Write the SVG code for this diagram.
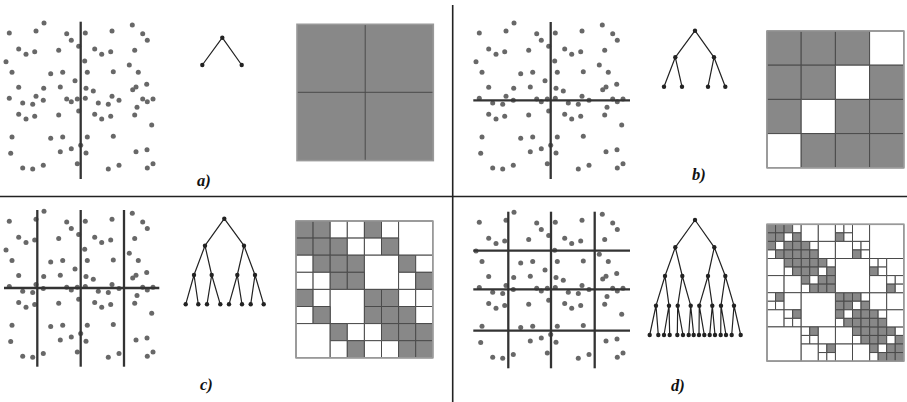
<svg xmlns="http://www.w3.org/2000/svg" xmlns:xlink="http://www.w3.org/1999/xlink" width="907" height="402" viewBox="0 0 907 402">
<style>
.pt{fill:#686868}
.cut{stroke:#333;stroke-width:2.3;fill:none}
.edge{stroke:#222;stroke-width:1.2;fill:none}
.nd{fill:#222}
.g{fill:#888;stroke:#4a4a4a;stroke-width:1;vector-effect:non-scaling-stroke}
.w{fill:#fff;stroke:#4a4a4a;stroke-width:1;vector-effect:non-scaling-stroke}
.border{fill:none;stroke:#999;stroke-width:1.6}
.div{stroke:#222;stroke-width:1.6}
.lbl{font-family:"Liberation Serif",serif;font-weight:bold;font-style:italic;font-size:16.5px;fill:#111}
</style>
<defs>
<g id="cloud" class="pt">
<circle cx="44" cy="23" r="2.5"/><circle cx="9.3" cy="33" r="2.5"/><circle cx="36" cy="31" r="2.5"/><circle cx="66.7" cy="33.7" r="2.5"/><circle cx="71.3" cy="40.3" r="2.5"/><circle cx="85.3" cy="33" r="2.5"/><circle cx="112" cy="31" r="2.5"/><circle cx="132.3" cy="25" r="2.5"/><circle cx="142.7" cy="33.7" r="2.5"/><circle cx="147.3" cy="40.3" r="2.5"/>
<circle cx="18.7" cy="49" r="2.5"/><circle cx="26" cy="54.3" r="2.5"/><circle cx="34.7" cy="51.7" r="2.5"/><circle cx="58.7" cy="50.3" r="2.5"/><circle cx="78.7" cy="46.3" r="2.5"/><circle cx="94.7" cy="49" r="2.5"/><circle cx="101.7" cy="54.3" r="2.5"/><circle cx="110.7" cy="51.7" r="2.5"/><circle cx="134.7" cy="50.3" r="2.5"/>
<circle cx="6" cy="61.7" r="2.5"/><circle cx="84.7" cy="61" r="2.5"/><circle cx="129.3" cy="65" r="2.5"/>
<circle cx="12" cy="72.3" r="2.5"/><circle cx="50.7" cy="73.7" r="2.5"/><circle cx="62.7" cy="72.3" r="2.5"/><circle cx="87.3" cy="72.3" r="2.5"/><circle cx="113.3" cy="71.7" r="2.5"/><circle cx="138.3" cy="72.3" r="2.5"/>
<circle cx="75" cy="80.7" r="2.5"/>
<circle cx="18.7" cy="87.3" r="2.5"/><circle cx="43.7" cy="88.3" r="2.5"/><circle cx="60.3" cy="87" r="2.5"/><circle cx="86" cy="88.3" r="2.5"/><circle cx="93.3" cy="91" r="2.5"/><circle cx="136" cy="87" r="2.5"/><circle cx="132.7" cy="89.7" r="2.5"/><circle cx="146.7" cy="84.3" r="2.5"/>
<circle cx="9.3" cy="98.3" r="2.5"/><circle cx="36" cy="96.3" r="2.5"/><circle cx="43.3" cy="100.3" r="2.5"/><circle cx="22.7" cy="103" r="2.5"/><circle cx="32.7" cy="104.3" r="2.5"/><circle cx="66.7" cy="99" r="2.5"/><circle cx="71.3" cy="101.7" r="2.5"/><circle cx="77.3" cy="99" r="2.5"/><circle cx="85.3" cy="98.3" r="2.5"/><circle cx="98.3" cy="103" r="2.5"/><circle cx="108.3" cy="104.3" r="2.5"/><circle cx="112" cy="96.3" r="2.5"/><circle cx="119" cy="100.3" r="2.5"/><circle cx="142.7" cy="99" r="2.5"/><circle cx="147.3" cy="101.7" r="2.5"/><circle cx="153" cy="99" r="2.5"/><circle cx="137" cy="107.3" r="2.5"/>
<circle cx="18.7" cy="114.3" r="2.5"/><circle cx="26" cy="119" r="2.5"/><circle cx="34.7" cy="116.3" r="2.5"/><circle cx="58.7" cy="115" r="2.5"/><circle cx="78.7" cy="111" r="2.5"/><circle cx="94.7" cy="114.3" r="2.5"/><circle cx="101.7" cy="119" r="2.5"/><circle cx="110.7" cy="116.3" r="2.5"/><circle cx="134.7" cy="115" r="2.5"/><circle cx="151.7" cy="125" r="2.5"/>
<circle cx="12" cy="137" r="2.5"/><circle cx="50.7" cy="138.3" r="2.5"/><circle cx="62.7" cy="137" r="2.5"/><circle cx="87.3" cy="137" r="2.5"/><circle cx="113.3" cy="136.3" r="2.5"/>
<circle cx="10.7" cy="153.3" r="2.5"/><circle cx="60.3" cy="151.7" r="2.5"/><circle cx="71.3" cy="148.7" r="2.5"/><circle cx="80.7" cy="145.3" r="2.5"/><circle cx="86" cy="153" r="2.5"/><circle cx="136" cy="151.7" r="2.5"/><circle cx="147" cy="149.7" r="2.5"/>
<circle cx="22.7" cy="168" r="2.5"/><circle cx="32.7" cy="169" r="2.5"/><circle cx="43.3" cy="165.3" r="2.5"/><circle cx="77.3" cy="163.7" r="2.5"/><circle cx="108.3" cy="169" r="2.5"/><circle cx="119" cy="165.3" r="2.5"/><circle cx="147.3" cy="168" r="2.5"/><circle cx="153" cy="163.7" r="2.5"/>
</g>
</defs>

<g id="dividers">
<line class="div" x1="452.7" y1="5" x2="452.7" y2="402"/>
<line class="div" x1="0" y1="196.5" x2="907" y2="196.5"/>
</g>

<!-- Panel a -->
<g id="panel-a">
<g id="a-points"><use xlink:href="#cloud" href="#cloud"/>
<line class="cut" x1="80.7" y1="21.7" x2="80.7" y2="179"/></g>
<g id="a-tree">
<path class="edge" d="M222.3 37.7L202.3 65M222.3 37.7L241.7 65"/>
<circle class="nd" cx="222.3" cy="37.7" r="2.2"/><circle class="nd" cx="202.3" cy="65" r="2.2"/><circle class="nd" cx="241.7" cy="65" r="2.2"/>
</g>
<g id="a-matrix">
<rect x="297" y="24.3" width="136.3" height="136.3" fill="#888"/>
<path d="M365.2 24.3V160.6M297 92.3H433.3" stroke="#4a4a4a" stroke-width="1"/>
<rect class="border" x="297" y="24.3" width="136.3" height="136.3"/>
</g>
<text class="lbl" x="197" y="186">a)</text>
</g>

<!-- Panel b -->
<g id="panel-b">
<g id="b-points"><use xlink:href="#cloud" href="#cloud" x="470" y="0"/>
<line class="cut" x1="550.7" y1="22" x2="550.7" y2="179"/>
<line class="cut" x1="473.3" y1="100.3" x2="630" y2="100.3"/></g>
<g id="b-tree">
<path class="edge" d="M695 30.7L675.3 57.3M695 30.7L714 57.3M675.3 57.3L664 86.7M675.3 57.3L682 86.7M714 57.3L708 86.7M714 57.3L725.3 86.7"/>
<circle class="nd" cx="695" cy="30.7" r="2.2"/><circle class="nd" cx="675.3" cy="57.3" r="2.2"/><circle class="nd" cx="714" cy="57.3" r="2.2"/>
<circle class="nd" cx="664" cy="86.7" r="2.2"/><circle class="nd" cx="682" cy="86.7" r="2.2"/><circle class="nd" cx="708" cy="86.7" r="2.2"/><circle class="nd" cx="725.3" cy="86.7" r="2.2"/>
</g>
<g id="b-matrix">
<g transform="translate(767 31) scale(34.2)">
<rect class="g" x="0" y="0" width="1" height="1"/><rect class="g" x="1" y="0" width="1" height="1"/><rect class="g" x="2" y="0" width="1" height="1"/><rect class="w" x="3" y="0" width="1" height="1"/>
<rect class="g" x="0" y="1" width="1" height="1"/><rect class="g" x="1" y="1" width="1" height="1"/><rect class="w" x="2" y="1" width="1" height="1"/><rect class="g" x="3" y="1" width="1" height="1"/>
<rect class="g" x="0" y="2" width="1" height="1"/><rect class="w" x="1" y="2" width="1" height="1"/><rect class="g" x="2" y="2" width="1" height="1"/><rect class="g" x="3" y="2" width="1" height="1"/>
<rect class="w" x="0" y="3" width="1" height="1"/><rect class="g" x="1" y="3" width="1" height="1"/><rect class="g" x="2" y="3" width="1" height="1"/><rect class="g" x="3" y="3" width="1" height="1"/>
</g>
<rect class="border" x="767" y="31" width="136.8" height="136.8"/>
</g>
<text class="lbl" x="692" y="180">b)</text>
</g>

<!-- Panel c -->
<g id="panel-c">
<g id="c-points"><use xlink:href="#cloud" href="#cloud" x="0" y="188.3"/>
<line class="cut" x1="37.3" y1="210" x2="37.3" y2="366.7"/>
<line class="cut" x1="80.7" y1="210" x2="80.7" y2="366.7"/>
<line class="cut" x1="124" y1="210" x2="124" y2="366.7"/>
<line class="cut" x1="4" y1="288" x2="159.3" y2="288"/></g>
<g id="c-tree">
<path class="edge" d="M224.3 218.7L205 245.7M224.3 218.7L244 245.7M205 245.7L194 275M205 245.7L211.7 275M244 245.7L237.3 275M244 245.7L255 275M194 275L185.7 304.3M194 275L198.3 304.3M211.7 275L207 304.3M211.7 275L220.3 304.3M237.3 275L229 304.3M237.3 275L242 304.3M255 275L250.7 304.3M255 275L263.7 304.3"/>
<circle class="nd" cx="224.3" cy="218.7" r="2.2"/><circle class="nd" cx="205" cy="245.7" r="2.2"/><circle class="nd" cx="244" cy="245.7" r="2.2"/>
<circle class="nd" cx="194" cy="275" r="2.2"/><circle class="nd" cx="211.7" cy="275" r="2.2"/><circle class="nd" cx="237.3" cy="275" r="2.2"/><circle class="nd" cx="255" cy="275" r="2.2"/>
<circle class="nd" cx="185.7" cy="304.3" r="2.2"/><circle class="nd" cx="198.3" cy="304.3" r="2.2"/><circle class="nd" cx="207" cy="304.3" r="2.2"/><circle class="nd" cx="220.3" cy="304.3" r="2.2"/><circle class="nd" cx="229" cy="304.3" r="2.2"/><circle class="nd" cx="242" cy="304.3" r="2.2"/><circle class="nd" cx="250.7" cy="304.3" r="2.2"/><circle class="nd" cx="263.7" cy="304.3" r="2.2"/>
</g>
<g id="c-matrix">
<g transform="translate(296 221) scale(17.1)">
<rect class="g" x="0" y="0" width="1" height="1"/><rect class="g" x="1" y="0" width="1" height="1"/><rect class="w" x="2" y="0" width="1" height="1"/><rect class="w" x="3" y="0" width="1" height="1"/><rect class="g" x="4" y="0" width="1" height="1"/><rect class="w" x="5" y="0" width="1" height="1"/><rect class="w" x="6" y="0" width="2" height="2"/>
<rect class="g" x="0" y="1" width="1" height="1"/><rect class="g" x="1" y="1" width="1" height="1"/><rect class="g" x="2" y="1" width="1" height="1"/><rect class="w" x="3" y="1" width="1" height="1"/><rect class="w" x="4" y="1" width="1" height="1"/><rect class="g" x="5" y="1" width="1" height="1"/>
<rect class="w" x="0" y="2" width="1" height="1"/><rect class="g" x="1" y="2" width="1" height="1"/><rect class="g" x="2" y="2" width="1" height="1"/><rect class="g" x="3" y="2" width="1" height="1"/><rect class="w" x="4" y="2" width="2" height="2"/><rect class="g" x="6" y="2" width="1" height="1"/><rect class="w" x="7" y="2" width="1" height="1"/>
<rect class="w" x="0" y="3" width="1" height="1"/><rect class="w" x="1" y="3" width="1" height="1"/><rect class="g" x="2" y="3" width="1" height="1"/><rect class="g" x="3" y="3" width="1" height="1"/><rect class="w" x="6" y="3" width="1" height="1"/><rect class="g" x="7" y="3" width="1" height="1"/>
<rect class="g" x="0" y="4" width="1" height="1"/><rect class="w" x="1" y="4" width="1" height="1"/><rect class="w" x="2" y="4" width="2" height="2"/><rect class="g" x="4" y="4" width="1" height="1"/><rect class="g" x="5" y="4" width="1" height="1"/><rect class="w" x="6" y="4" width="1" height="1"/><rect class="w" x="7" y="4" width="1" height="1"/>
<rect class="w" x="0" y="5" width="1" height="1"/><rect class="g" x="1" y="5" width="1" height="1"/><rect class="g" x="4" y="5" width="1" height="1"/><rect class="g" x="5" y="5" width="1" height="1"/><rect class="g" x="6" y="5" width="1" height="1"/><rect class="w" x="7" y="5" width="1" height="1"/>
<rect class="w" x="0" y="6" width="2" height="2"/><rect class="g" x="2" y="6" width="1" height="1"/><rect class="w" x="3" y="6" width="1" height="1"/><rect class="w" x="4" y="6" width="1" height="1"/><rect class="g" x="5" y="6" width="1" height="1"/><rect class="g" x="6" y="6" width="1" height="1"/><rect class="g" x="7" y="6" width="1" height="1"/>
<rect class="w" x="2" y="7" width="1" height="1"/><rect class="g" x="3" y="7" width="1" height="1"/><rect class="w" x="4" y="7" width="1" height="1"/><rect class="w" x="5" y="7" width="1" height="1"/><rect class="g" x="6" y="7" width="1" height="1"/><rect class="g" x="7" y="7" width="1" height="1"/>
</g>
<rect class="border" x="296" y="221" width="136.8" height="136.8"/>
</g>
<text class="lbl" x="200" y="390">c)</text>
</g>

<!-- Panel d -->
<g id="panel-d">
<g id="d-points"><use xlink:href="#cloud" href="#cloud" x="470" y="189.3"/>
<line class="cut" x1="508.3" y1="211.7" x2="508.3" y2="368.3"/>
<line class="cut" x1="551" y1="211.7" x2="551" y2="368.3"/>
<line class="cut" x1="594.7" y1="211.7" x2="594.7" y2="368.3"/>
<line class="cut" x1="473.3" y1="250.7" x2="630" y2="250.7"/>
<line class="cut" x1="473.3" y1="289.3" x2="630" y2="289.3"/>
<line class="cut" x1="473.3" y1="330.7" x2="630" y2="330.7"/></g>
<g id="d-tree">
<path class="edge" d="M695 220L675.3 247.3M695 220L714.3 247.3M675.3 247.3L665 276M675.3 247.3L682.3 276M714.3 247.3L708 276M714.3 247.3L725.3 276M665 276L656 305.7M665 276L669 305.7M682.3 276L677.7 305.7M682.3 276L690.7 305.7M708 276L699.3 305.7M708 276L712.3 305.7M725.3 276L721 305.7M725.3 276L734 305.7M656 305.7L649.7 335M656 305.7L658.3 335M669 305.7L664 335M669 305.7L669.7 335M677.7 305.7L677.3 335M677.7 305.7L683 335M690.7 305.7L688.7 335M690.7 305.7L693.7 335M699.3 305.7L699 335M699.3 305.7L704.3 335M712.3 305.7L709.7 335M712.3 305.7L715 335M721 305.7L720.7 335M721 305.7L726 335M734 305.7L731.7 335M734 305.7L740.7 335"/>
<circle class="nd" cx="695" cy="220" r="2.2"/><circle class="nd" cx="675.3" cy="247.3" r="2.2"/><circle class="nd" cx="714.3" cy="247.3" r="2.2"/>
<circle class="nd" cx="665" cy="276" r="2.2"/><circle class="nd" cx="682.3" cy="276" r="2.2"/><circle class="nd" cx="708" cy="276" r="2.2"/><circle class="nd" cx="725.3" cy="276" r="2.2"/>
<circle class="nd" cx="656" cy="305.7" r="2.2"/><circle class="nd" cx="669" cy="305.7" r="2.2"/><circle class="nd" cx="677.7" cy="305.7" r="2.2"/><circle class="nd" cx="690.7" cy="305.7" r="2.2"/><circle class="nd" cx="699.3" cy="305.7" r="2.2"/><circle class="nd" cx="712.3" cy="305.7" r="2.2"/><circle class="nd" cx="721" cy="305.7" r="2.2"/><circle class="nd" cx="734" cy="305.7" r="2.2"/>
<circle class="nd" cx="649.7" cy="335" r="2.2"/><circle class="nd" cx="658.3" cy="335" r="2.2"/><circle class="nd" cx="664" cy="335" r="2.2"/><circle class="nd" cx="669.7" cy="335" r="2.2"/><circle class="nd" cx="677.3" cy="335" r="2.2"/><circle class="nd" cx="683" cy="335" r="2.2"/><circle class="nd" cx="688.7" cy="335" r="2.2"/><circle class="nd" cx="693.7" cy="335" r="2.2"/><circle class="nd" cx="699" cy="335" r="2.2"/><circle class="nd" cx="704.3" cy="335" r="2.2"/><circle class="nd" cx="709.7" cy="335" r="2.2"/><circle class="nd" cx="715" cy="335" r="2.2"/><circle class="nd" cx="720.7" cy="335" r="2.2"/><circle class="nd" cx="726" cy="335" r="2.2"/><circle class="nd" cx="731.7" cy="335" r="2.2"/><circle class="nd" cx="740.7" cy="335" r="2.2"/>
</g>
<g id="d-matrix">
<g transform="translate(767 224.3) scale(8.55)">
<!-- Q00 diag blocks -->
<rect class="g" x="0" y="0" width="1" height="1"/><rect class="g" x="1" y="0" width="1" height="1"/><rect class="g" x="2" y="0" width="1" height="1"/><rect class="w" x="3" y="0" width="1" height="1"/>
<rect class="g" x="0" y="1" width="1" height="1"/><rect class="g" x="1" y="1" width="1" height="1"/><rect class="w" x="2" y="1" width="1" height="1"/><rect class="g" x="3" y="1" width="1" height="1"/>
<rect class="g" x="0" y="2" width="1" height="1"/><rect class="w" x="1" y="2" width="1" height="1"/><rect class="g" x="2" y="2" width="1" height="1"/><rect class="g" x="3" y="2" width="1" height="1"/>
<rect class="w" x="0" y="3" width="1" height="1"/><rect class="g" x="1" y="3" width="1" height="1"/><rect class="g" x="2" y="3" width="1" height="1"/><rect class="g" x="3" y="3" width="1" height="1"/>
<rect class="g" x="4" y="4" width="1" height="1"/><rect class="g" x="5" y="4" width="1" height="1"/><rect class="g" x="6" y="4" width="1" height="1"/><rect class="w" x="7" y="4" width="1" height="1"/>
<rect class="g" x="4" y="5" width="1" height="1"/><rect class="g" x="5" y="5" width="1" height="1"/><rect class="w" x="6" y="5" width="1" height="1"/><rect class="g" x="7" y="5" width="1" height="1"/>
<rect class="g" x="4" y="6" width="1" height="1"/><rect class="w" x="5" y="6" width="1" height="1"/><rect class="g" x="6" y="6" width="1" height="1"/><rect class="g" x="7" y="6" width="1" height="1"/>
<rect class="w" x="4" y="7" width="1" height="1"/><rect class="g" x="5" y="7" width="1" height="1"/><rect class="g" x="6" y="7" width="1" height="1"/><rect class="g" x="7" y="7" width="1" height="1"/>
<rect class="g" x="4" y="2" width="1" height="1"/><rect class="w" x="5" y="2" width="1" height="1"/><rect class="g" x="4" y="3" width="1" height="1"/><rect class="g" x="5" y="3" width="1" height="1"/>
<rect class="w" x="4" y="0" width="2" height="2"/><rect class="w" x="6" y="0" width="2" height="2"/><rect class="w" x="6" y="2" width="2" height="2"/>
<rect class="g" x="2" y="4" width="1" height="1"/><rect class="g" x="3" y="4" width="1" height="1"/><rect class="w" x="2" y="5" width="1" height="1"/><rect class="g" x="3" y="5" width="1" height="1"/>
<rect class="w" x="0" y="4" width="2" height="2"/><rect class="w" x="0" y="6" width="2" height="2"/><rect class="w" x="2" y="6" width="2" height="2"/>
<!-- Q11 -->
<rect class="g" x="8" y="8" width="1" height="1"/><rect class="g" x="9" y="8" width="1" height="1"/><rect class="g" x="10" y="8" width="1" height="1"/><rect class="w" x="11" y="8" width="1" height="1"/>
<rect class="g" x="8" y="9" width="1" height="1"/><rect class="g" x="9" y="9" width="1" height="1"/><rect class="w" x="10" y="9" width="1" height="1"/><rect class="g" x="11" y="9" width="1" height="1"/>
<rect class="g" x="8" y="10" width="1" height="1"/><rect class="w" x="9" y="10" width="1" height="1"/><rect class="g" x="10" y="10" width="1" height="1"/><rect class="g" x="11" y="10" width="1" height="1"/>
<rect class="w" x="8" y="11" width="1" height="1"/><rect class="g" x="9" y="11" width="1" height="1"/><rect class="g" x="10" y="11" width="1" height="1"/><rect class="g" x="11" y="11" width="1" height="1"/>
<rect class="g" x="12" y="12" width="1" height="1"/><rect class="g" x="13" y="12" width="1" height="1"/><rect class="g" x="14" y="12" width="1" height="1"/><rect class="w" x="15" y="12" width="1" height="1"/>
<rect class="g" x="12" y="13" width="1" height="1"/><rect class="g" x="13" y="13" width="1" height="1"/><rect class="w" x="14" y="13" width="1" height="1"/><rect class="g" x="15" y="13" width="1" height="1"/>
<rect class="g" x="12" y="14" width="1" height="1"/><rect class="w" x="13" y="14" width="1" height="1"/><rect class="g" x="14" y="14" width="1" height="1"/><rect class="g" x="15" y="14" width="1" height="1"/>
<rect class="w" x="12" y="15" width="1" height="1"/><rect class="g" x="13" y="15" width="1" height="1"/><rect class="g" x="14" y="15" width="1" height="1"/><rect class="g" x="15" y="15" width="1" height="1"/>
<rect class="g" x="12" y="10" width="1" height="1"/><rect class="w" x="13" y="10" width="1" height="1"/><rect class="g" x="12" y="11" width="1" height="1"/><rect class="g" x="13" y="11" width="1" height="1"/>
<rect class="w" x="12" y="8" width="2" height="2"/><rect class="w" x="14" y="8" width="2" height="2"/><rect class="w" x="14" y="10" width="2" height="2"/>
<rect class="g" x="10" y="12" width="1" height="1"/><rect class="g" x="11" y="12" width="1" height="1"/><rect class="w" x="10" y="13" width="1" height="1"/><rect class="g" x="11" y="13" width="1" height="1"/>
<rect class="w" x="8" y="12" width="2" height="2"/><rect class="w" x="8" y="14" width="2" height="2"/><rect class="w" x="10" y="14" width="2" height="2"/>
<!-- Q01 -->
<rect class="w" x="8" y="0" width="1" height="1"/><rect class="w" x="9" y="0" width="1" height="1"/><rect class="g" x="8" y="1" width="1" height="1"/><rect class="w" x="9" y="1" width="1" height="1"/>
<rect class="w" x="10" y="0" width="2" height="2"/><rect class="w" x="8" y="2" width="2" height="2"/>
<rect class="w" x="10" y="2" width="1" height="1"/><rect class="w" x="11" y="2" width="1" height="1"/><rect class="g" x="10" y="3" width="1" height="1"/><rect class="w" x="11" y="3" width="1" height="1"/>
<rect class="w" x="12" y="0" width="4" height="4"/><rect class="w" x="8" y="4" width="4" height="4"/>
<rect class="w" x="12" y="4" width="1" height="1"/><rect class="w" x="13" y="4" width="1" height="1"/><rect class="g" x="12" y="5" width="1" height="1"/><rect class="w" x="13" y="5" width="1" height="1"/>
<rect class="w" x="14" y="4" width="2" height="2"/><rect class="w" x="12" y="6" width="2" height="2"/>
<rect class="w" x="14" y="6" width="1" height="1"/><rect class="w" x="15" y="6" width="1" height="1"/><rect class="g" x="14" y="7" width="1" height="1"/><rect class="w" x="15" y="7" width="1" height="1"/>
<!-- Q10 -->
<rect class="w" x="0" y="8" width="1" height="1"/><rect class="w" x="0" y="9" width="1" height="1"/><rect class="g" x="1" y="8" width="1" height="1"/><rect class="w" x="1" y="9" width="1" height="1"/>
<rect class="w" x="0" y="10" width="2" height="2"/><rect class="w" x="2" y="8" width="2" height="2"/>
<rect class="w" x="2" y="10" width="1" height="1"/><rect class="w" x="2" y="11" width="1" height="1"/><rect class="g" x="3" y="10" width="1" height="1"/><rect class="w" x="3" y="11" width="1" height="1"/>
<rect class="w" x="0" y="12" width="4" height="4"/><rect class="w" x="4" y="8" width="4" height="4"/>
<rect class="w" x="4" y="12" width="1" height="1"/><rect class="w" x="4" y="13" width="1" height="1"/><rect class="g" x="5" y="12" width="1" height="1"/><rect class="w" x="5" y="13" width="1" height="1"/>
<rect class="w" x="4" y="14" width="2" height="2"/><rect class="w" x="6" y="12" width="2" height="2"/>
<rect class="w" x="6" y="14" width="1" height="1"/><rect class="w" x="6" y="15" width="1" height="1"/><rect class="g" x="7" y="14" width="1" height="1"/><rect class="w" x="7" y="15" width="1" height="1"/>
</g>
<rect class="border" x="767" y="224.3" width="136.8" height="136.8"/>
</g>
<text class="lbl" x="671" y="391">d)</text>
</g>
</svg>
